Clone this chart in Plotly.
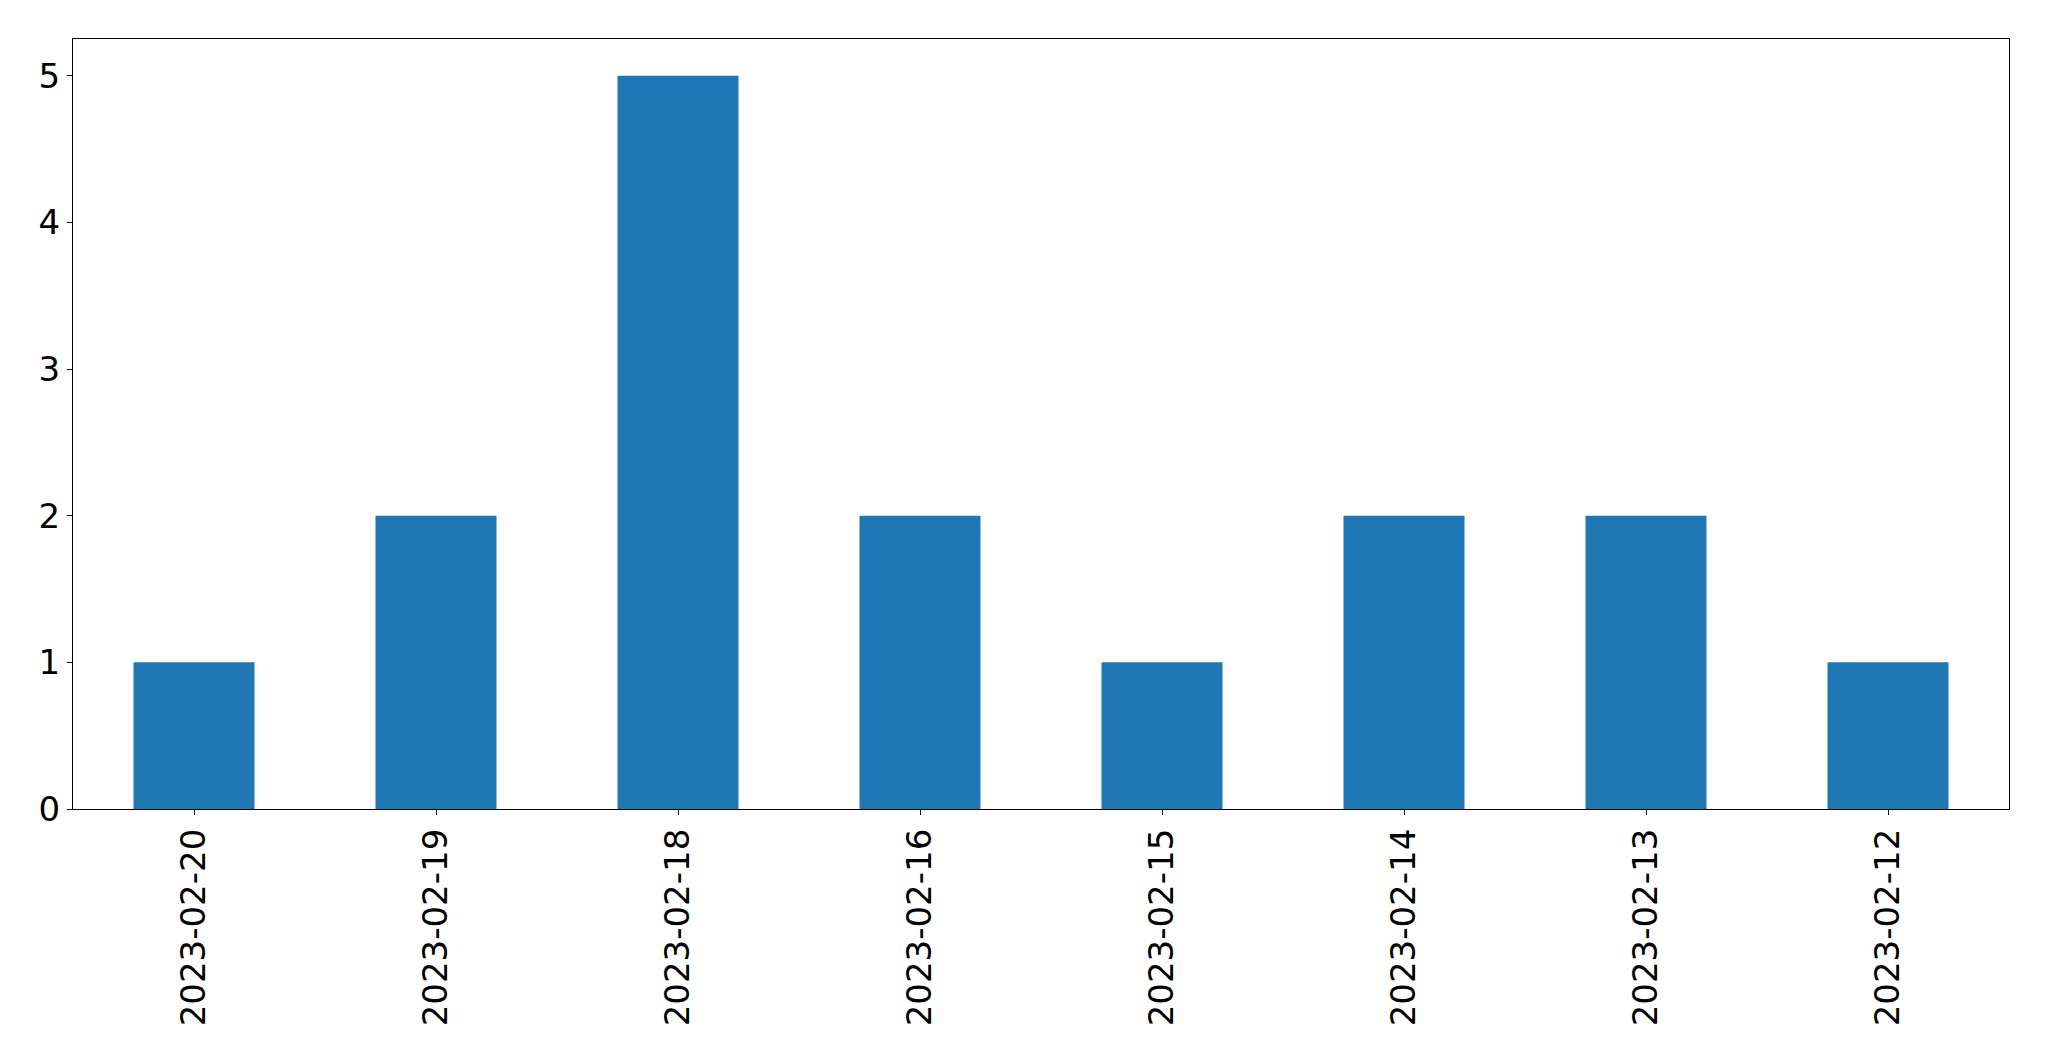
import plotly.graph_objects as go

dates = ["2023-02-20", "2023-02-19", "2023-02-18", "2023-02-16",
         "2023-02-15", "2023-02-14", "2023-02-13", "2023-02-12"]
counts = [1, 2, 5, 2, 1, 2, 2, 1]
y_ticks = [0, 1, 2, 3, 4, 5]

fig = go.Figure()
fig.add_trace(go.Bar(x=dates, y=counts, width=0.5, marker_color="#1f77b4",
                     marker_line_width=0))

axis_common = dict(showline=True, linecolor="black", linewidth=1.3, mirror=True,
                   ticks="outside", ticklen=5, tickwidth=1.3, tickcolor="black",
                   showgrid=False, zeroline=False,
                   tickfont=dict(family="DejaVu Sans", size=34, color="black"))

fig.update_xaxes(type="category", range=[-0.5, 7.5], tickangle=-90, **axis_common)
fig.update_yaxes(range=[0, 5.25], tickvals=y_ticks, **axis_common)

fig.update_layout(width=2041, height=1053, autosize=False,
                  margin=dict(l=65, r=40, t=31, b=252, pad=0),
                  plot_bgcolor="white", paper_bgcolor="white",
                  showlegend=False)

fig.write_html("out.html")
